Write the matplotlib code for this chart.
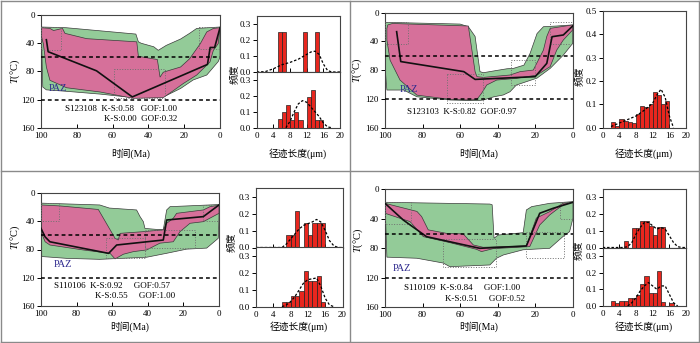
import matplotlib
matplotlib.use('Agg')
import matplotlib.pyplot as plt
from matplotlib.lines import Line2D

plt.rcParams['font.family'] = ['Liberation Serif', 'Noto Sans CJK SC']
plt.rcParams['mathtext.fontset'] = 'custom'
plt.rcParams['mathtext.rm'] = 'Liberation Serif'
plt.rcParams['mathtext.it'] = 'Liberation Serif:italic'

GREEN = '#93cb98'
PINK = '#d6709a'
RED = '#e8261e'

# ---- S123108 ----
s123108_green_age = [100, 86, 47, 45.6, 44, 37, 34.5, 30, 22, 17, 13, 0,
                     0, 1, 7.4, 15, 22, 30, 37, 52, 67, 86, 97, 99, 99.6]
s123108_green_temp = [17, 18, 27, 38, 40, 45, 50, 43, 34, 26, 19, 17,
                      60, 66, 85, 92, 104, 114, 117, 116, 112, 108, 106, 102, 45]
s123108_pink_age = [100, 95, 93, 88, 86.6, 74.5, 46.5, 45.6, 35, 33.5, 31.7, 22, 17, 11, 7.4, 3.7, 0,
                    1, 3.7, 5.6, 13, 20.5, 26, 31.7, 48.4, 67, 85.7, 95, 97, 98.7, 100]
s123108_pink_temp = [18, 19, 22, 19, 26, 33.5, 38, 58.5, 63, 88, 81, 73.6, 62, 40.6, 24, 19, 18,
                     40.6, 50, 66.5, 85, 97, 107, 117, 118, 109, 103, 92.5, 73.6, 40.6, 28]
s123108_best_age = [97, 96, 69, 49, 7, 5.5, 3, 0]
s123108_best_temp = [35, 52, 79, 116, 70, 46, 46, 18]
s123108_boxes = [(100, 89, 17, 50), (59, 31, 76, 118), (12, 0, 17, 48)]
s123108_stats = ['S123108  K-S:0.58   GOF:1.00', 'K-S:0.00  GOF:0.32']

s123108_hist1_left = [5, 6, 11, 14]
s123108_hist1_freq = [0.25, 0.25, 0.25, 0.25]
s123108_curve1_len = [0, 2, 4, 6, 8, 10, 11, 12, 13, 14, 15, 16, 17, 18, 20]
s123108_curve1_freq = [0, 0.002, 0.02, 0.045, 0.06, 0.08, 0.095, 0.11, 0.125, 0.13, 0.11, 0.05, 0.01, 0.0, 0]
s123108_hist2_left = [5, 6, 7, 8, 9, 10, 12, 13, 14, 15]
s123108_hist2_freq = [0.053, 0.097, 0.143, 0.05, 0.097, 0.05, 0.19, 0.24, 0.05, 0.05]
s123108_curve2_len = [7, 8, 9, 10, 11, 12, 13, 14, 15, 16, 17, 18]
s123108_curve2_freq = [0, 0.04, 0.1, 0.15, 0.17, 0.16, 0.13, 0.1, 0.07, 0.03, 0.005, 0]

# ---- S123103 ----
s123103_green_age = [100, 60, 55.6, 52, 51, 49.4, 47.6, 42, 35, 31.6, 26, 22.7, 19, 15.6, 8.5, 0,
                     0, 5, 12, 19, 30, 33.4, 37, 42, 47.6, 51, 65, 83, 90, 99, 100]
s123103_green_temp = [13.4, 15.8, 19.5, 33, 52, 82, 83.5, 81, 78, 77.5, 73, 56.6, 29, 19.5, 18.5, 17,
                      42.7, 59, 77.5, 91, 100.6, 110, 114.5, 117, 121.5, 122.4, 121.5, 117, 107.6, 107.6, 75]
s123103_pink_age = [99, 98.5, 96, 55.6, 52, 51, 47.6, 33.4, 28, 21, 15.6, 13.8, 12, 0,
                    0, 5, 8.5, 12, 19, 30, 40.5, 45.8, 48.5, 51, 54.7, 65, 83, 92, 97.3, 99]
s123103_pink_temp = [22, 17, 15, 18.5, 82, 89, 90, 86.7, 82, 79.8, 52, 33, 21.8, 17,
                     24, 38, 52, 75, 86.7, 91.4, 93.7, 100.6, 112, 120.6, 121.5, 120.6, 114.7, 93.7, 66, 38]
s123103_best_age = [93.8, 91.6, 58, 52, 20, 13.8, 11, 5, 0]
s123103_best_temp = [26.4, 68, 82, 92.8, 89, 70.5, 33.4, 31, 18.5]
s123103_boxes = [(100, 88, 13, 43), (67, 48, 85, 125), (33, 20, 66, 100), (12, 0, 13, 43)]
s123103_stats = ['S123103  K-S:0.82  GOF:0.97']

s123103_hist_left = [2, 3, 4, 5, 6, 7, 8, 9, 10, 11, 12, 13, 14, 15]
s123103_hist_freq = [0.026, 0.009, 0.036, 0.029, 0.023, 0.019, 0.057, 0.093, 0.087, 0.103, 0.151, 0.14, 0.10, 0.113]
s123103_curve_len = [2, 4, 6, 8, 10, 12, 13, 14, 15, 16, 17]
s123103_curve_freq = [0.005, 0.02, 0.035, 0.05, 0.075, 0.105, 0.14, 0.165, 0.13, 0.05, 0.0]

# ---- S110106 ----
s110106_green_age = [100, 67, 61.6, 46.3, 44.4, 42.5, 41.6, 35, 31.3, 29.4, 27.5, 18.2, 0,
                     0, 0.4, 6.9, 18.2, 29.4, 40.6, 67, 85.6, 99.6]
s110106_green_temp = [14, 16.6, 21, 23.7, 33, 40.4, 50, 51.4, 52, 23.7, 19, 18, 16,
                      33.7, 64, 78, 79.5, 85.4, 91, 94, 92.6, 90]
s110106_pink_age = [100, 89.3, 67.8, 58.4, 56.6, 55.6, 42.5, 31.3, 29.4, 25.7, 23.8, 8.8, 5, 0,
                    0, 8.8, 16.3, 21.9, 25.7, 33.2, 40.6, 48, 53.7, 58.4, 61.2, 76.2, 95, 97.7, 100]
s110106_pink_temp = [16.6, 18, 23, 64, 66.5, 57, 54.6, 52, 42.7, 35.6, 28.5, 23.7, 19, 17,
                     28.5, 40.4, 42.7, 54.6, 69, 71, 80.6, 83, 86.7, 93.4, 85.5, 80.7, 73.6, 69, 54.6]
s110106_best_age = [100, 97.7, 95, 62, 57.5, 31.3, 29.4, 8.8, 0]
s110106_best_temp = [50, 62, 69, 85.5, 73.6, 66.5, 38, 33.2, 16.6]
s110106_boxes = [(100, 90, 14, 40), (63.5, 41.6, 64, 92.6), (41.6, 13.5, 52, 78), (9, 0, 17, 40)]
s110106_stats = ['S110106  K-S:0.92     GOF:0.57', 'K-S:0.55     GOF:1.00']

s110106_hist1_left = [7, 8, 9, 11, 12, 13, 14, 15]
s110106_hist1_freq = [0.071, 0.071, 0.217, 0.142, 0.071, 0.142, 0.142, 0.142]
s110106_curve1_len = [0, 6, 7, 8, 9, 10, 11, 12, 13, 14, 15, 16, 17, 18, 19, 20]
s110106_curve1_freq = [0, 0, 0.02, 0.05, 0.08, 0.11, 0.13, 0.14, 0.15, 0.165, 0.15, 0.1, 0.04, 0.01, 0, 0]
s110106_hist2_left = [6, 7, 8, 9, 10, 11, 12, 13, 14, 15]
s110106_hist2_freq = [0.03, 0.03, 0.064, 0.064, 0.09, 0.214, 0.154, 0.154, 0.184, 0.03]
s110106_curve2_len = [6, 7, 8, 9, 10, 11, 12, 13, 14, 15, 16, 17, 18]
s110106_curve2_freq = [0, 0.01, 0.03, 0.06, 0.1, 0.14, 0.16, 0.165, 0.17, 0.12, 0.05, 0.01, 0]

# ---- S110109 ----
s110109_green_age = [100, 44.2, 43, 42, 39.8, 26.5, 24.8, 22, 12.4, 0,
                     0, 1.8, 5.3, 12.4, 26.5, 37, 40.7, 44.2, 65.5, 69, 83, 99]
s110109_green_temp = [17.6, 20, 21, 66.4, 62, 58.8, 28, 23.5, 19, 16.7,
                      39, 57.4, 64, 80, 82, 89, 93.5, 102.6, 104.9, 100, 93.5, 92]
s110109_pink_age = [100, 83, 80.5, 77, 67.3, 58.4, 53, 47.8, 24.8, 19.5, 12.4, 5.3, 0,
                    5.3, 12.4, 17.7, 23, 42.5, 48.7, 51.3, 65.5, 79.6, 86.7, 100]
s110109_pink_temp = [19, 30, 37, 55, 59.7, 60.5, 75.5, 78.6, 76.8, 39, 30.3, 19, 17.6,
                     21, 34.8, 48.4, 77.7, 80.5, 84.5, 81.4, 72.3, 64.2, 43.8, 32.5]
s110109_best_age = [100, 90.3, 77.9, 49.6, 24.8, 17.7, 10.6, 0]
s110109_best_temp = [19, 41.6, 64.2, 80, 76.8, 32.5, 25.8, 17.6]
s110109_boxes = [(100, 86, 17, 47), (69, 41, 68, 105), (25, 5, 58, 93), (7, 0, 17, 40)]
s110109_stats = ['S110109  K-S:0.84     GOF:1.00', 'K-S:0.51     GOF:0.52']

s110109_hist1_left = [5, 7, 8, 9, 10, 11, 12, 13, 14]
s110109_hist1_freq = [0.04, 0.116, 0.116, 0.157, 0.157, 0.13, 0.075, 0.12, 0.12]
s110109_curve1_len = [0, 5, 6, 7, 8, 9, 10, 11, 12, 13, 14, 15, 16, 17, 18, 19, 20]
s110109_curve1_freq = [0, 0, 0.005, 0.03, 0.08, 0.12, 0.15, 0.15, 0.13, 0.11, 0.12, 0.11, 0.07, 0.03, 0.005, 0, 0]
s110109_hist2_left = [2, 3, 4, 5, 6, 7, 8, 9, 10, 11, 12, 13, 14, 16]
s110109_hist2_freq = [0.03, 0.016, 0.03, 0.03, 0.045, 0.045, 0.065, 0.13, 0.178, 0.08, 0.08, 0.21, 0.026, 0.016]
s110109_curve2_len = [6, 7, 8, 9, 10, 11, 12, 13, 14, 15, 16, 17, 18]
s110109_curve2_freq = [0, 0.02, 0.05, 0.09, 0.12, 0.14, 0.12, 0.1, 0.12, 0.12, 0.07, 0.02, 0]

W, H = 700, 343


def px_axes(fig, x0, y0, x1, y1):
    # pixel box (top-left origin) -> figure axes
    return fig.add_axes([x0 / W, 1 - y1 / H, (x1 - x0) / W, (y1 - y0) / H])


def style(ax):
    for s in ax.spines.values():
        s.set_color('#444444')
        s.set_linewidth(0.8)
    ax.tick_params(axis='x', direction='in', length=3, width=0.7, labelsize=6.5, pad=3, top=False)
    ax.tick_params(axis='y', direction='out', length=3, width=0.7, labelsize=6.5, pad=1.5)


def thermal(ax, g_age, g_temp, p_age, p_temp, b_age, b_temp, boxes, stats, stat_pos, paz_pos):
    ax.fill(g_age, g_temp, facecolor=GREEN, edgecolor='#3a3a3a', lw=0.5, zorder=1)
    ax.fill(p_age, p_temp, facecolor=PINK, edgecolor='#3a3a3a', lw=0.5, zorder=2)
    for a0, a1, t0, t1 in boxes:
        ax.plot([a0, a1, a1, a0, a0], [t0, t0, t1, t1, t0], ls=':', color='#707070', lw=0.7, zorder=3)
    ax.plot(b_age, b_temp, color='#111111', lw=1.2, zorder=4)
    for t in (60, 120):
        ax.axhline(t, color='black', ls=(0, (2.5, 2)), lw=1.1, zorder=5)
    ax.text(paz_pos[0], paz_pos[1], 'PAZ', color='#2e2a8e', fontsize=7.5, va='center', zorder=6)
    for (x, y), s in zip(stat_pos, stats):
        ax.text(x, y, s, fontsize=6.5, va='center', ha='left', zorder=6)
    ax.set_xlim(100, 0)
    ax.set_ylim(160, 0)
    ax.set_xticks([100, 80, 60, 40, 20, 0])
    ax.set_yticks([0, 40, 80, 120, 160])
    style(ax)


def hist(ax, left, freq, c_len, c_freq, ymax, yticks, show_x):
    ax.bar(left, freq, width=1, align='edge', color=RED, edgecolor='#222222', lw=0.5, zorder=2)
    ax.plot(c_len, c_freq, color='black', ls=(0, (2, 1.5)), lw=0.9, zorder=3)
    ax.set_xlim(0, 20)
    ax.set_ylim(0, ymax)
    ax.set_xticks([0, 4, 8, 12, 16, 20])
    ax.set_yticks(yticks)
    ax.set_yticklabels(['%.1f' % v for v in yticks])
    style(ax)
    if not show_x:
        ax.tick_params(axis='x', labelbottom=False)


fig = plt.figure(figsize=(7, 3.43), dpi=100)

# panel frames
for xs, ys in [([1, 699], [1, 1]), ([1, 699], [342, 342]), ([1, 1], [1, 342]),
               ([699, 699], [1, 342]), ([350, 350], [1, 342]), ([1, 699], [171, 171])]:
    fig.add_artist(Line2D([x / W for x in xs], [1 - y / H for y in ys], color='#8a8a8a', lw=1.0))

yl = r'$T$(°C)'

# top-left
ax = px_axes(fig, 41, 15, 220, 128)
thermal(ax, s123108_green_age, s123108_green_temp, s123108_pink_age, s123108_pink_temp,
        s123108_best_age, s123108_best_temp, s123108_boxes, s123108_stats,
        [(86.6, 132.6), (65, 146.8)], (95.5, 104))
ax1 = px_axes(fig, 256.7, 16, 340, 72)
hist(ax1, s123108_hist1_left, s123108_hist1_freq, s123108_curve1_len, s123108_curve1_freq,
     0.35, [0.0, 0.1, 0.2, 0.3], False)
ax2 = px_axes(fig, 256.7, 72, 340, 127.7)
hist(ax2, s123108_hist2_left, s123108_hist2_freq, s123108_curve2_len, s123108_curve2_freq,
     0.35, [0.0, 0.1, 0.2, 0.3], True)
fig.text(15 / W, 1 - 71 / H, yl, rotation=90, ha='center', va='center', fontsize=7.5)
fig.text(130.5 / W, 1 - 154 / H, '时间(Ma)', ha='center', va='center', fontsize=7)
fig.text(298 / W, 1 - 154 / H, '径迹长度(μm)', ha='center', va='center', fontsize=7)
fig.text(235 / W, 1 - 74 / H, '频度', rotation=90, ha='center', va='center', fontsize=7)

# top-right
ax = px_axes(fig, 385, 12.7, 572.7, 127.7)
thermal(ax, s123103_green_age, s123103_green_temp, s123103_pink_age, s123103_pink_temp,
        s123103_best_age, s123103_best_temp, s123103_boxes, s123103_stats,
        [(88.5, 137.7)], (92, 107))
ax1 = px_axes(fig, 602.7, 11, 686, 127.7)
hist(ax1, s123103_hist_left, s123103_hist_freq, s123103_curve_len, s123103_curve_freq,
     0.5, [0.0, 0.1, 0.2, 0.3, 0.4, 0.5], True)
fig.text(357 / W, 1 - 70 / H, yl, rotation=90, ha='center', va='center', fontsize=7.5)
fig.text(479 / W, 1 - 154 / H, '时间(Ma)', ha='center', va='center', fontsize=7)
fig.text(644 / W, 1 - 154 / H, '径迹长度(μm)', ha='center', va='center', fontsize=7)
fig.text(580 / W, 1 - 76 / H, '频度', rotation=90, ha='center', va='center', fontsize=7)

# bottom-left
ax = px_axes(fig, 41, 193.3, 219, 305.7)
thermal(ax, s110106_green_age, s110106_green_temp, s110106_pink_age, s110106_pink_temp,
        s110106_best_age, s110106_best_temp, s110106_boxes, s110106_stats,
        [(92.5, 131.5), (69.7, 146)], (93, 101))
ax1 = px_axes(fig, 256, 188, 342.5, 247.5)
hist(ax1, s110106_hist1_left, s110106_hist1_freq, s110106_curve1_len, s110106_curve1_freq,
     0.35, [0.0, 0.1, 0.2, 0.3], False)
ax2 = px_axes(fig, 256, 247.5, 342.5, 306.7)
hist(ax2, s110106_hist2_left, s110106_hist2_freq, s110106_curve2_len, s110106_curve2_freq,
     0.35, [0.0, 0.1, 0.2, 0.3], True)
fig.text(15 / W, 1 - 237 / H, yl, rotation=90, ha='center', va='center', fontsize=7.5)
fig.text(130 / W, 1 - 327 / H, '时间(Ma)', ha='center', va='center', fontsize=7)
fig.text(299 / W, 1 - 327 / H, '径迹长度(μm)', ha='center', va='center', fontsize=7)
fig.text(232 / W, 1 - 242 / H, '频度', rotation=90, ha='center', va='center', fontsize=7)

# bottom-right
ax = px_axes(fig, 385, 189.3, 573, 307.3)
thermal(ax, s110109_green_age, s110109_green_temp, s110109_pink_age, s110109_pink_temp,
        s110109_best_age, s110109_best_temp, s110109_boxes, s110109_stats,
        [(89.7, 134), (68, 148.7)], (95.7, 107))
ax1 = px_axes(fig, 602.7, 189, 686, 247.5)
hist(ax1, s110109_hist1_left, s110109_hist1_freq, s110109_curve1_len, s110109_curve1_freq,
     0.35, [0.0, 0.1, 0.2, 0.3], False)
ax2 = px_axes(fig, 602.7, 247.5, 686, 306)
hist(ax2, s110109_hist2_left, s110109_hist2_freq, s110109_curve2_len, s110109_curve2_freq,
     0.35, [0.0, 0.1, 0.2, 0.3], True)
fig.text(358 / W, 1 - 240 / H, yl, rotation=90, ha='center', va='center', fontsize=7.5)
fig.text(479 / W, 1 - 327 / H, '时间(Ma)', ha='center', va='center', fontsize=7)
fig.text(644 / W, 1 - 327 / H, '径迹长度(μm)', ha='center', va='center', fontsize=7)
fig.text(579 / W, 1 - 250 / H, '频度', rotation=90, ha='center', va='center', fontsize=7)

fig.savefig('out.png', dpi=100)
